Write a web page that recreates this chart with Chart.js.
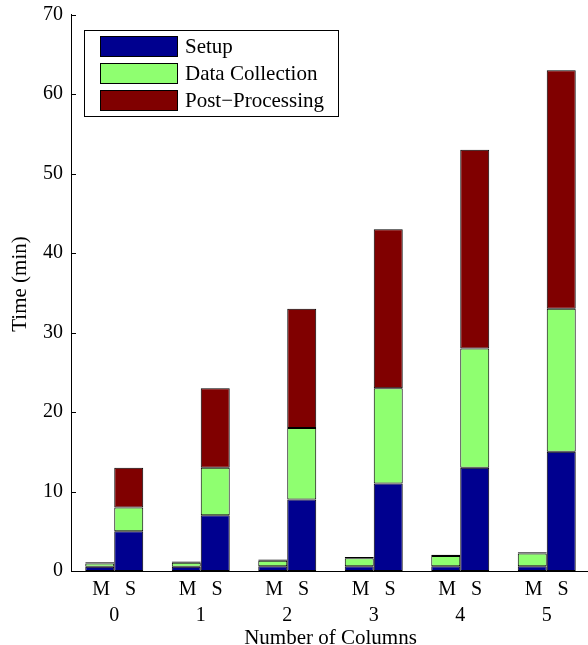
<!DOCTYPE html>
<html lang="en">
<head>
<meta charset="UTF-8" />
<title>Chart</title>
<script src="https://cdn.jsdelivr.net/npm/chart.js@4.4.0/dist/chart.umd.min.js"></script>
<style>
  html, body { margin: 0; padding: 0; overflow: hidden; background: #fff; }
</style>
</head>
<body>
<canvas id="chart" width="590" height="645"></canvas>
<script>

const columns = ['0', '1', '2', '3', '4', '5'];
const yTicks = [0, 10, 20, 30, 40, 50, 60, 70];
const seriesNames = ['Setup', 'Data Collection', 'Post\u2212Processing'];
const seriesColors = ['#00008f', '#8fff70', '#800000'];
const yTitle = 'Time (min)';
const xTitle = 'Number of Columns';

// M bars (small ones)
const mSetup = [0.55, 0.55, 0.6, 0.6, 0.6, 0.6];
const mData  = [0.4, 0.5, 0.7, 1.0, 1.3, 1.6];
const mPost  = [0.15, 0.15, 0.15, 0.15, 0.15, 0.15];

// S bars
const sSetup = [5, 7, 9, 11, 13, 15];
const sData  = [3, 6, 9, 12, 15, 18];
const sPost  = [5, 10, 15, 20, 25, 30];

const serif = '"Liberation Serif", "Times New Roman", serif';

function makeSet(i, data, stack) {
    return {
        label: seriesNames[i],
        data: data,
        stack: stack,
        backgroundColor: seriesColors[i],
        borderColor: '#000',
        borderWidth: 1,
        borderSkipped: false,
        categoryPercentage: 0.67,
        barPercentage: 1.0
    };
}

// legend box drawn inside the plot, like the original figure
const boxLegend = {
    id: 'boxLegend',
    afterDraw(chart) {
        const ctx = chart.ctx;
        ctx.save();
        ctx.fillStyle = '#fff';
        ctx.fillRect(84, 30, 254, 86);
        ctx.strokeStyle = '#000';
        ctx.lineWidth = 1;
        ctx.strokeRect(84.5, 30.5, 254, 86);
        ctx.font = '21px ' + serif;
        ctx.textBaseline = 'middle';
        for (let i = 0; i < 3; i++) {
            const ds = chart.data.datasets[i];
            const y = 46 + i * 27;
            ctx.fillStyle = ds.backgroundColor;
            ctx.fillRect(100, y - 10, 77, 20);
            ctx.strokeRect(100.5, y - 9.5, 77, 20);
            ctx.fillStyle = '#000';
            ctx.fillText(ds.label, 185, y + 1);
        }
        ctx.restore();
    }
};

// tick marks pointing into the plot + rotated y title
const axisExtras = {
    id: 'axisExtras',
    afterDraw(chart) {
        const ctx = chart.ctx;
        const ys = chart.scales.y;
        const left = chart.chartArea.left;
        ctx.save();
        ctx.strokeStyle = '#000';
        ctx.lineWidth = 1;
        ys.ticks.forEach((t, i) => {
            const py = Math.round(ys.getPixelForTick(i)) + 0.5;
            ctx.beginPath();
            ctx.moveTo(left, py);
            ctx.lineTo(left + 5, py);
            ctx.stroke();
        });
        ctx.translate(20, 284);
        ctx.rotate(-Math.PI / 2);
        ctx.font = '21px ' + serif;
        ctx.fillStyle = '#000';
        ctx.textAlign = 'center';
        ctx.textBaseline = 'middle';
        ctx.fillText(yTitle, 0, 0);
        ctx.restore();
    }
};

const ctx = document.getElementById('chart').getContext('2d');

const myChart = new Chart(ctx, {
    type: 'bar',
    data: {
        labels: columns.map(c => ['M   S', c]),
        datasets: [
            makeSet(0, mSetup, 'M'),
            makeSet(1, mData, 'M'),
            makeSet(2, mPost, 'M'),
            makeSet(0, sSetup, 'S'),
            makeSet(1, sData, 'S'),
            makeSet(2, sPost, 'S')
        ]
    },
    options: {
        responsive: false,
        animation: false,
        layout: { padding: { top: 14.5, right: 0, bottom: 0, left: 0 } },
        plugins: {
            legend: { display: false },
            tooltip: { enabled: false }
        },
        scales: {
            x: {
                stacked: true,
                grid: { display: false, drawTicks: false },
                border: { display: true, color: '#000', width: 1 },
                ticks: {
                    color: '#000',
                    padding: 6,
                    maxRotation: 0,
                    autoSkip: false,
                    font: { family: serif, size: 20, lineHeight: 1.28 }
                },
                title: {
                    display: true,
                    text: xTitle,
                    color: '#000',
                    font: { family: serif, size: 21, lineHeight: 1.2 },
                    padding: { top: 0, bottom: -6 }
                },
                afterFit: s => { s.height = 74; }
            },
            y: {
                stacked: true,
                min: 0,
                max: 70,
                grid: { display: false, drawTicks: false },
                border: { display: true, color: '#000', width: 1 },
                afterBuildTicks: s => { s.ticks = yTicks.map(v => ({ value: v })); },
                ticks: {
                    color: '#000',
                    padding: 8,
                    font: { family: serif, size: 20 }
                },
                afterFit: s => { s.width = 71; s.paddingTop = 0; s.paddingBottom = 0; }
            }
        }
    },
    plugins: [boxLegend, axisExtras]
});

</script>
</body>
</html>
